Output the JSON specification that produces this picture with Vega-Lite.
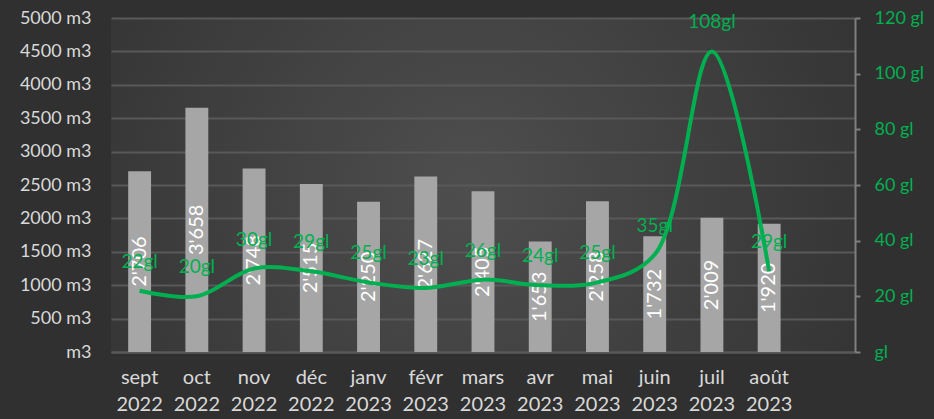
{
  "$schema": "https://vega.github.io/schema/vega-lite/v6.json",
  "width": 744,
  "height": 334,
  "autosize": {"type": "none"},
  "padding": {"left": 111, "top": 18, "right": 79, "bottom": 67},
  "background": "#303030",
  "config": {
    "font": "Lato",
    "view": {
      "stroke": null,
      "fill": {
        "gradient": "radial",
        "x1": 0.48, "y1": 0.5, "x2": 0.48, "y2": 0.5, "r1": 0, "r2": 0.78,
        "stops": [{"offset": 0, "color": "#4e4e4e"}, {"offset": 1, "color": "#2b2b2b"}]
      }
    }
  },
  "data": {
    "values": [
      {"mois": "sept 2022", "m3": 2706, "m3lab": "2'706", "gl": 22, "gllab": "22gl"},
      {"mois": "oct 2022", "m3": 3658, "m3lab": "3'658", "gl": 20, "gllab": "20gl"},
      {"mois": "nov 2022", "m3": 2748, "m3lab": "2'748", "gl": 30, "gllab": "30gl"},
      {"mois": "déc 2022", "m3": 2515, "m3lab": "2'515", "gl": 29, "gllab": "29gl"},
      {"mois": "janv 2023", "m3": 2250, "m3lab": "2'250", "gl": 25, "gllab": "25gl"},
      {"mois": "févr 2023", "m3": 2627, "m3lab": "2'627", "gl": 23, "gllab": "23gl"},
      {"mois": "mars 2023", "m3": 2405, "m3lab": "2'405", "gl": 26, "gllab": "26gl"},
      {"mois": "avr 2023", "m3": 1653, "m3lab": "1'653", "gl": 24, "gllab": "24gl"},
      {"mois": "mai 2023", "m3": 2258, "m3lab": "2'258", "gl": 25, "gllab": "25gl"},
      {"mois": "juin 2023", "m3": 1732, "m3lab": "1'732", "gl": 35, "gllab": "35gl"},
      {"mois": "juil 2023", "m3": 2009, "m3lab": "2'009", "gl": 108, "gllab": "108gl"},
      {"mois": "août 2023", "m3": 1920, "m3lab": "1'920", "gl": 29, "gllab": "29gl"}
    ]
  },
  "encoding": {
    "x": {
      "field": "mois",
      "type": "nominal",
      "sort": null,
      "scale": {
        "domain": ["sept 2022", "oct 2022", "nov 2022", "déc 2022", "janv 2023", "févr 2023", "mars 2023", "avr 2023", "mai 2023", "juin 2023", "juil 2023", "août 2023", "_"],
        "paddingInner": 0.6,
        "paddingOuter": 0.3
      },
      "axis": {
        "title": null,
        "labelAngle": 0,
        "labelExpr": "datum.value == '_' ? '' : split(datum.value, ' ')",
        "labelLineHeight": 27,
        "labelFontSize": 20,
        "labelColor": "#d9d9d9",
        "labelPadding": 15,
        "ticks": false,
        "domainColor": "#595959",
        "domainWidth": 2,
        "grid": false
      }
    }
  },
  "layer": [
    {
      "mark": {"type": "bar", "color": "#a6a6a6"},
      "encoding": {
        "y": {
          "field": "m3",
          "type": "quantitative",
          "scale": {"domain": [0, 5000], "nice": false},
          "axis": {
            "title": null,
            "values": [0, 500, 1000, 1500, 2000, 2500, 3000, 3500, 4000, 4500, 5000],
            "labelExpr": "datum.value == 0 ? 'm3' : datum.value + ' m3'",
            "labelFontSize": 18,
            "labelColor": "#d9d9d9",
            "labelPadding": 20,
            "ticks": false,
            "domain": false,
            "grid": true,
            "gridColor": "#595959",
            "gridWidth": 2
          }
        }
      }
    },
    {
      "mark": {"type": "text", "angle": 270, "color": "#ffffff", "fontSize": 20, "align": "center", "baseline": "middle"},
      "encoding": {
        "y": {"field": "m3", "type": "quantitative", "scale": {"domain": [0, 10000], "nice": false}, "axis": null},
        "text": {"field": "m3lab"}
      }
    },
    {
      "mark": {"type": "line", "color": "#00b050", "strokeWidth": 4, "interpolate": "catmull-rom"},
      "encoding": {
        "y": {
          "field": "gl",
          "type": "quantitative",
          "scale": {"domain": [0, 120], "nice": false},
          "axis": {
            "orient": "right",
            "title": null,
            "values": [0, 20, 40, 60, 80, 100, 120],
            "labelExpr": "datum.value == 0 ? 'gl' : datum.value + ' gl'",
            "labelFontSize": 18,
            "labelColor": "#00b050",
            "labelPadding": 14,
            "tickColor": "#7f7f7f",
            "tickSize": 5,
            "tickWidth": 2,
            "domainColor": "#7f7f7f",
            "domainWidth": 2,
            "grid": false
          }
        }
      }
    },
    {
      "mark": {"type": "text", "color": "#00b050", "fontSize": 19, "dy": -29, "align": "center", "baseline": "middle"},
      "encoding": {
        "y": {"field": "gl", "type": "quantitative", "scale": {"domain": [0, 120], "nice": false}, "axis": null},
        "text": {"field": "gllab"}
      }
    }
  ],
  "resolve": {"scale": {"y": "independent"}, "axis": {"y": "independent"}}
}
